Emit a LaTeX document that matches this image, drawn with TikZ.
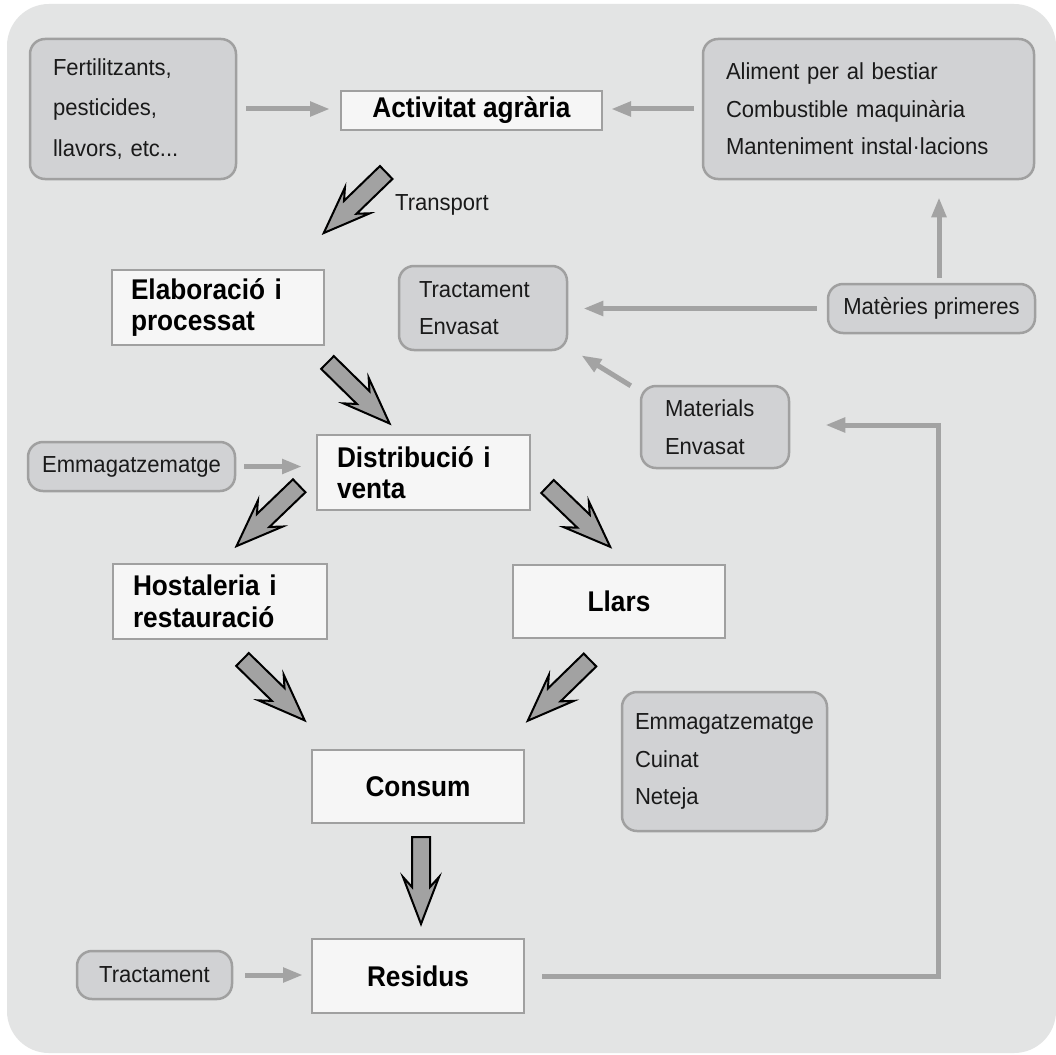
\documentclass[tikz,border=0pt]{standalone}
\usepackage{fontspec}
\setmainfont{Liberation Sans}
\newfontfamily\regf{Liberation Sans}[FakeStretch=0.95]
\newfontfamily\boldf{Liberation Sans}[FakeStretch=0.92]
\usetikzlibrary{arrows.meta,calc}
\definecolor{bgc}{HTML}{E3E4E4}
\definecolor{boxg}{HTML}{D1D2D4}
\definecolor{edgeg}{HTML}{A0A0A0}
\definecolor{whitebox}{HTML}{F6F6F6}
\definecolor{arrfill}{HTML}{A2A2A2}
\definecolor{linec}{HTML}{A3A3A3}
\definecolor{txt}{HTML}{1A1A1A}
\begin{document}
\begin{tikzpicture}[x=1pt,y=-1pt,
 graybox/.style={draw=edgeg, line width=2.5pt, fill=boxg, rounded corners=15pt, inner sep=0pt,
   font=\regf\fontsize{23.2}{37.5}\selectfont, text=txt},
 mainbox/.style={draw=edgeg, line width=2pt, fill=whitebox, inner sep=0pt,
   minimum width=212pt, minimum height=74pt, font=\boldf\bfseries\fontsize{28.5}{31.5}\selectfont, text=black},
 flowline/.style={draw=linec, line width=5pt, -{Triangle[length=20pt,width=14pt]}},
 bigarrow/.style={draw=black, line width=2pt, fill=arrfill, line join=miter},
 blockarr/.pic={\path[bigarrow] (0pt,9pt)--(50pt,9pt)--(40pt,18pt)--(87pt,0pt)--(40pt,-18pt)--(50pt,-9pt)--(0pt,-9pt)--cycle;}
]
\useasboundingbox (0,0) rectangle (1056,1054);
\fill[white] (0,0) rectangle (1056,1054);
\fill[bgc, rounded corners=42pt] (7,4) rectangle (1056,1053);

% nodes
\node[graybox, minimum width=206pt, minimum height=140pt, text width=160pt, inner xsep=23pt, align=left,
  font=\regf\fontsize{23.2}{40.5}\selectfont] (fert) at (133,109) {Fertilitzants,\\pesticides,\\llavors, etc...};
\node[mainbox, minimum width=261pt, minimum height=39pt] (act) at (471.5,110.5) {Activitat agrària};
\node[graybox, minimum width=331pt, minimum height=140pt, text width=285pt, inner xsep=23pt, align=left]
  (alim) at (868.5,109) {Aliment per al bestiar\\Combustible maquinària\\Manteniment instal·lacions};
\node[font=\regf\fontsize{23.2}{26}\selectfont, text=txt, anchor=west, inner sep=0pt] (transp) at (395,205) {Transport};
\node[mainbox, minimum height=75pt, text width=174pt, inner xsep=19pt, align=left] (elab) at (218,307.5) {Elaboració i\\processat};
\node[graybox, minimum width=168pt, minimum height=84pt, text width=128pt, inner xsep=20pt, align=left]
  (tract) at (483,308) {Tractament\\Envasat};
\node[graybox, minimum width=207pt, minimum height=49pt] (mat) at (931.5,308.5) {Matèries primeres};
\node[graybox, minimum width=148pt, minimum height=82pt, text width=100pt, inner xsep=24pt, align=left]
  (matl) at (715,427) {Materials\\Envasat};
\node[graybox, minimum width=207pt, minimum height=49pt] (emm) at (131.5,466.5) {Emmagatzematge};
\node[mainbox, minimum width=213pt, minimum height=75pt, text width=173pt, inner xsep=20pt, align=left]
  (dist) at (423.5,472.5) {Distribució i\\venta};
\node[mainbox, minimum width=214pt, minimum height=75pt, text width=174pt, inner xsep=20pt, align=left]
  (host) at (220,601.5) {Hostaleria i\\restauració};
\node[mainbox, minimum height=73pt] (llars) at (619,601.5) {Llars};
\node[graybox, minimum width=205pt, minimum height=139pt, text width=179pt, inner xsep=13pt, align=left]
  (cuin) at (724.5,761.5) {Emmagatzematge\\Cuinat\\Neteja};
\node[mainbox, minimum height=73pt] (cons) at (418,786.5) {Consum};
\node[mainbox] (res) at (418,976) {Residus};
\node[graybox, minimum width=155pt, minimum height=48pt] (tr2) at (154.5,975) {Tractament};

% thin connectors
\draw[flowline, shorten <=9pt, shorten >=10pt] (fert.east) -- (fert.east -| act.west);
\draw[flowline, shorten <=8pt, shorten >=8pt] (alim.west) -- (alim.west -| act.east);
\draw[flowline, shorten <=10pt, shorten >=15pt] (mat.west) -- (mat.west -| tract.east);
\draw[flowline, shorten <=5pt, shorten >=17pt] ([xshift=7.5pt]mat.north) -- ([xshift=7.5pt]mat.north |- alim.south);
\draw[flowline] ([xshift=-9pt,yshift=-1pt]matl.north west) -- ([xshift=13pt,yshift=-4pt]tract.south east);
\draw[flowline, shorten <=8pt, shorten >=14pt] (emm.east) -- (emm.east -| dist.west);
\draw[flowline, shorten <=12pt, shorten >=8pt] (tr2.east) -- (tr2.east -| res.west);
\coordinate (fb) at (938,425);
\draw[flowline, shorten <=17pt, shorten >=35pt] (res.east) -| (fb) -- (fb -| matl.east);

% block arrows
\coordinate (ta) at (386.2,172.5);
\coordinate (tb) at (327.5,362.5);
\coordinate (tc) at (299.2,485.8);
\coordinate (td) at (547.5,486.5);
\coordinate (te) at (242.5,659.5);
\coordinate (tf) at (590,660);
\coordinate (tg) at (421,837);
\pic[rotate=-135.9] at (ta) {blockarr};
\pic[rotate=-44.5] at (tb) {blockarr};
\pic[rotate=-136.1] at (tc) {blockarr};
\pic[rotate=-43.9] at (td) {blockarr};
\pic[rotate=-44.4] at (te) {blockarr};
\pic[rotate=-135.7] at (tf) {blockarr};
\pic[rotate=-90] at (tg) {blockarr};
\end{tikzpicture}
\end{document}
